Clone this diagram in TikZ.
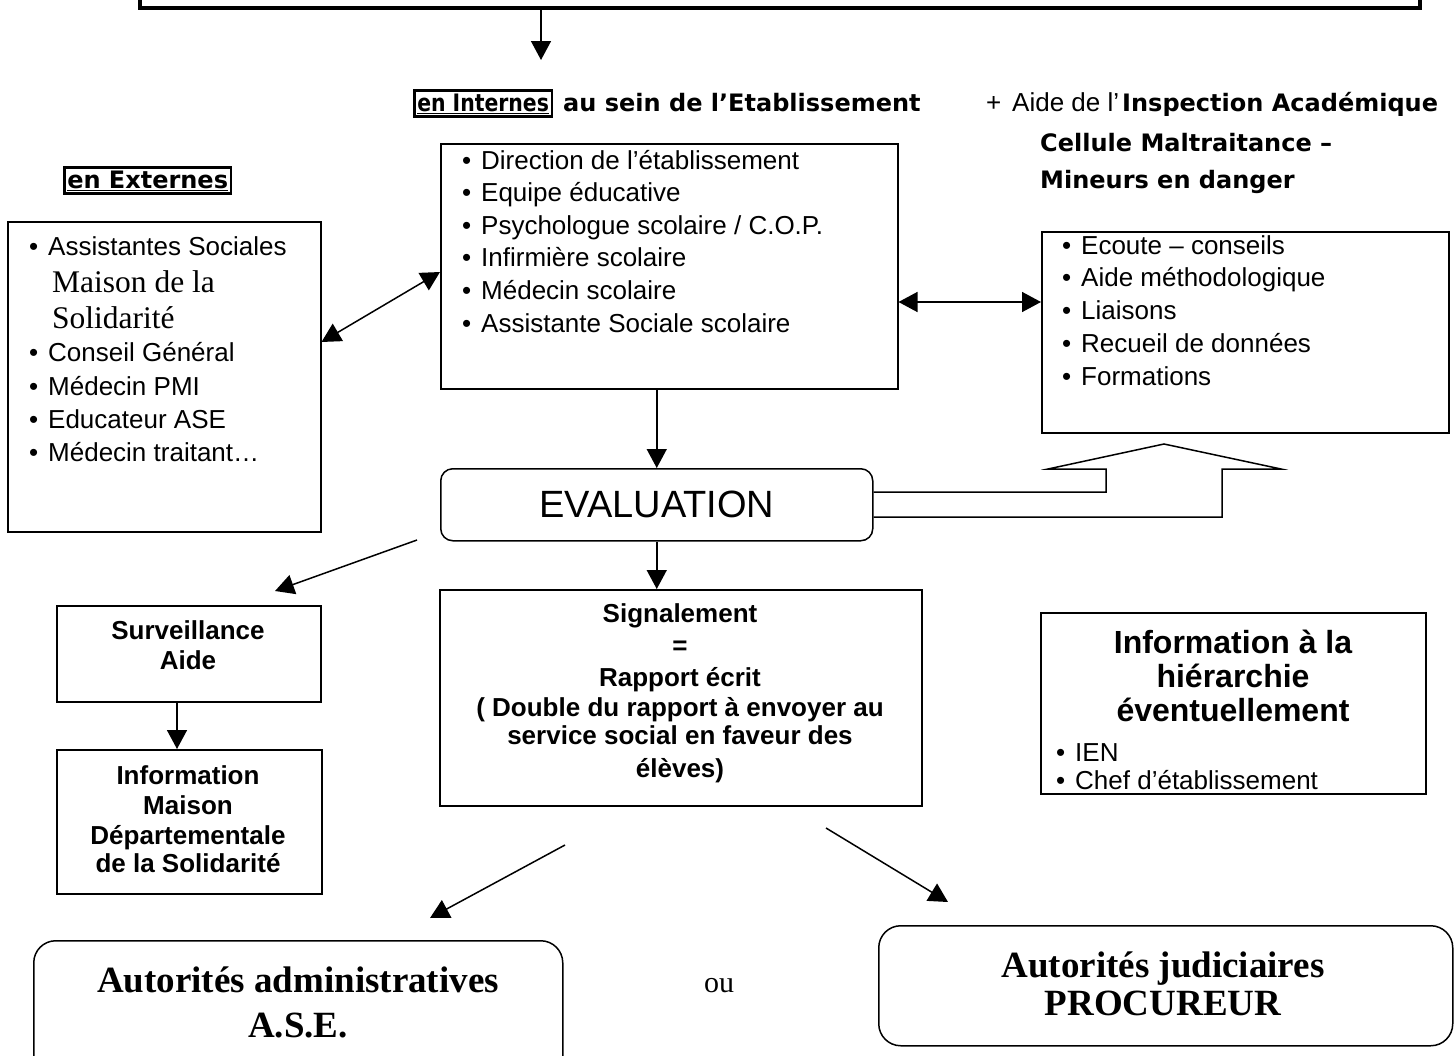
\documentclass[tikz,border=0pt]{standalone}
\usepackage{fontspec}
\setmainfont{Liberation Sans}
\newfontfamily\tnr{Liberation Serif}
\newfontfamily\comic{DejaVu Sans}
\usetikzlibrary{arrows.meta}
\tikzset{
  box/.style={draw, line width=1.5pt, inner sep=0pt, anchor=north west},
  rbox/.style={box, rounded corners=12pt},
  tip/.tip={Triangle[length=19pt,width=20pt]},
  arr/.style={-tip, line width=1.5pt},
  dbl/.style={tip-tip, line width=1.5pt},
  item/.style={anchor=base west, inner sep=0pt, font=\fontsize{26}{30}\selectfont},
  ctr/.style={anchor=base, inner sep=0pt, font=\bfseries\fontsize{26}{30}\selectfont},
  big/.style={anchor=base, inner sep=0pt, font=\bfseries\fontsize{32}{36}\selectfont},
  tms/.style={anchor=base, inner sep=0pt, font=\tnr\bfseries\fontsize{37}{40}\selectfont},
  cmc/.style={anchor=base west, inner sep=0pt, font=\comic\bfseries\fontsize{24}{28}\selectfont},
  tag/.style={cmc, draw, line width=2.5pt, inner xsep=3pt, inner ysep=3pt},
}
\newcommand{\bul}{\makebox[19pt][l]{\textbullet}}
\begin{document}
\begin{tikzpicture}[x=1pt,y=-1pt]
\useasboundingbox (0,0) rectangle (1456,1055);

% top frame
\node[draw, line width=4pt, inner sep=0pt, minimum width=1280pt, minimum height=40pt, anchor=south west] (top) at (138,10) {};
\coordinate (topend) at (541,60);
\draw[arr] (top.south -| topend) -- (topend);

% headings
\node[tag] (intern) at (413,111) {\scalebox{0.85}[1]{\underline{en Internes}}};
\node[cmc] (sein) at (563,111) {au sein de l’Etablissement};
\node[item] (plus) at (986,111) {+};
\node[item] (aidede) at (1012,111) {Aide de l’};
\node[cmc] (inspect) at (1122,111) {Inspection Académique};
\node[cmc] (cellule) at (1040,151) {Cellule Maltraitance –};
\node[cmc] (mineurs) at (1040,188) {Mineurs en danger};
\node[tag] (extern) at (63,188) {\underline{en Externes}};

% internal box
\node[box, minimum width=457pt, minimum height=245pt] (dir) at (440,143) {};
\foreach \t [count=\i from 0] in {Direction de l’établissement, Equipe éducative, {Psychologue scolaire / C.O.P.}, Infirmière scolaire, Médecin scolaire, Assistante Sociale scolaire}
  \node[item] (d\i) at (462,{169+32.6*\i}) {\bul\t};

% external box
\node[box, minimum width=313pt, minimum height=310pt] (ext) at (7,221) {};
\node[item] (e1) at (29,255) {\bul Assistantes Sociales};
\node[item, font=\tnr\fontsize{31.5}{34}\selectfont] (e2) at (52,292) {Maison de la};
\node[item, font=\tnr\fontsize{31.5}{34}\selectfont] (e3) at (52,328) {Solidarité};
\node[item] (e4) at (29,361) {\bul Conseil Général};
\node[item] (e5) at (29,395) {\bul Médecin PMI};
\node[item] (e6) at (29,428) {\bul Educateur ASE};
\node[item] (e7) at (29,461) {\bul Médecin traitant…};

% help box
\node[box, minimum width=407pt, minimum height=201pt] (aide) at (1041,231) {};
\foreach \t [count=\i from 0] in {Ecoute – conseils, Aide méthodologique, Liaisons, Recueil de données, Formations}
  \node[item] (a\i) at (1062,{254+32.8*\i}) {\bul\t};

% double arrows
\draw[dbl] (ext.east |- 0,342) -- (dir.west |- 0,272);
\draw[dbl] (dir.east |- 0,302) -- (aide.west |- 0,302);

% evaluation
\node[rbox, minimum width=432pt, minimum height=72pt, font=\fontsize{38}{40}\selectfont] (eval) at (440,468) {EVALUATION};
\draw[arr] (eval.north |- dir.south) -- (eval.north);

% fat arrow
\draw[line width=1.5pt, line join=miter] (eval.east |- 0,492) -- (1106,492) -- (1106,469) -- (1048,469) -- (1164,444) -- (1281,469) -- (1222,469) -- (1222,517) -- (eval.east |- 0,517);

% signalement
\node[box, minimum width=482pt, minimum height=216pt] (sig) at (439,589) {};
\draw[arr] (eval.south) -- (eval.south |- sig.north);
\node[ctr] (s1) at (680,622) {Signalement};
\node[ctr] (s2) at (680,654) {=};
\node[ctr] (s3) at (680,686) {Rapport écrit};
\node[ctr] (s4) at (680,716) {( Double du rapport à envoyer au};
\node[ctr] (s5) at (680,744) {service social en faveur des};
\node[ctr] (s6) at (680,777) {élèves)};

% surveillance
\coordinate (ev1) at (417,540);
\coordinate (sv1) at (275,591);
\draw[arr] (ev1) -- (sv1);
\node[box, minimum width=264pt, minimum height=96pt] (surv) at (56,605) {};
\node[ctr] (v1) at (188,639) {Surveillance};
\node[ctr] (v2) at (188,669) {Aide};
\node[box, minimum width=265pt, minimum height=144pt] (infom) at (56,749) {};
\coordinate (sx) at (177,0);
\draw[arr] (surv.south -| sx) -- (infom.north -| sx);
\node[ctr] (m1) at (188,784) {Information};
\node[ctr] (m2) at (188,814) {Maison};
\node[ctr] (m3) at (188,844) {Départementale};
\node[ctr] (m4) at (188,872) {de la Solidarité};

% hierarchy
\node[box, minimum width=385pt, minimum height=181pt] (hier) at (1040,612) {};
\node[big] (h1) at (1233,653) {Information à la};
\node[big] (h2) at (1233,687) {hiérarchie};
\node[big] (h3) at (1233,721) {éventuellement};
\node[item] (h4) at (1056,761) {\bul IEN};
\node[item] (h5) at (1056,789) {\bul Chef d’établissement};

% bottom
\coordinate (sg1) at (565,845);
\coordinate (ad1) at (430,918);
\coordinate (sg2) at (826,828);
\coordinate (ju1) at (948,902);
\draw[arr] (sg1) -- (ad1);
\draw[arr] (sg2) -- (ju1);
\node[rbox, rounded corners=22pt, minimum width=529pt, minimum height=140pt] (adm) at (33,940) {};
\node[tms] (t1) at (298,992) {Autorités administratives};
\node[tms] (t2) at (298,1037) {A.S.E.};
\node[anchor=base, inner sep=0pt, font=\tnr\fontsize{30}{34}\selectfont] (ou) at (719,992) {ou};
\node[rbox, rounded corners=22pt, minimum width=574pt, minimum height=120pt] (jud) at (878,925) {};
\node[tms] (j1) at (1163,977) {Autorités judiciaires};
\node[tms] (j2) at (1163,1015) {PROCUREUR};
\end{tikzpicture}
\end{document}
